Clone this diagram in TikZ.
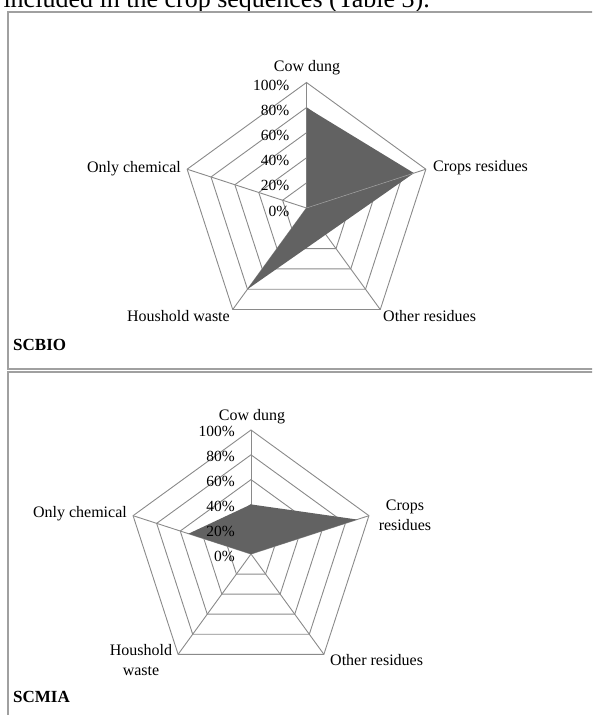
\documentclass[tikz,border=0pt]{standalone}
\usepackage{fontspec}
\setmainfont{Liberation Serif}
\definecolor{gridgray}{HTML}{8A8A8A}
\definecolor{seriesgray}{HTML}{626262}
\definecolor{framegray}{HTML}{A0A0A0}
\begin{document}
\begin{tikzpicture}[x=1pt,y=-1pt,
  grid/.style={draw=gridgray, line width=0.9pt},
  series/.style={fill=seriesgray, draw=none},
  lbl/.style={font=\fontsize{16}{20}\selectfont, inner sep=0pt, align=center},
  pct/.style={font=\fontsize{15.5}{17}\selectfont, inner sep=0pt, anchor=east},
  paneltitle/.style={font=\fontsize{17}{20}\selectfont\bfseries, inner sep=0pt, anchor=west},
  frame/.style={draw=framegray, line width=1.2pt},
  seam/.style={draw=gray!70, line width=0.5pt}]
\useasboundingbox (0,0) rectangle (592,715);
\clip (0,0) rectangle (592,715);

% heading text, cut at the top
\node[font=\fontsize{26}{30}\selectfont, inner sep=0pt, anchor=base east] (head) at (430,7) {included in the crop sequences (Table 3).};

% panel frames
\draw[frame] (600,369) -- (8,369) -- (8,12) -- (600,12);
\draw[frame] (600,372) -- (8,372) -- (8,720);

% ---------- top chart: SCBIO ----------
\begin{scope}[shift={(306.5,208)}]
  \foreach \r in {25.1,50.2,75.3,100.4,125.5}
    \draw[grid] (-90:\r) -- (-18:\r) -- (54:\r) -- (126:\r) -- (198:\r) -- cycle;
  \foreach \a in {-90,-18,54,126,198}
    \draw[grid] (0,0) -- (\a:125.5);
  \coordinate (t0) at (0,0);
  \coordinate (tc) at (-90:{0.8*125.5});
  \coordinate (tr) at (-18:{0.9*125.5});
  \coordinate (th) at (126:{0.8*125.5});
  \fill[series] (tc) -- (tr) -- (th) -- (t0) -- cycle;
  \draw[seam] (t0) -- (tr);
\end{scope}
\node[lbl] (tcow) at (307,68) {Cow dung};
\node[lbl, anchor=west] (tcrops) at (433,168) {Crops residues};
\node[lbl, anchor=east] (tchem) at (181,169) {Only chemical};
\node[lbl, anchor=east] (thouse) at (230,316) {Houshold waste};
\node[lbl, anchor=west] (tother) at (383,316) {Other residues};
\node[pct] (tp100) at (289.5,85) {100\%};
\node[pct] (tp80) at (289.5,110) {80\%};
\node[pct] (tp60) at (289.5,135) {60\%};
\node[pct] (tp40) at (289.5,160) {40\%};
\node[pct] (tp20) at (289.5,185) {20\%};
\node[pct] (tp0) at (289.5,211) {0\%};
\node[paneltitle] (scbio) at (13,345) {SCBIO};

% ---------- bottom chart: SCMIA ----------
\begin{scope}[shift={(251,554)}]
  \foreach \r in {24.8,49.6,74.4,99.2,124}
    \draw[grid] (-90:\r) -- (-18:\r) -- (54:\r) -- (126:\r) -- (198:\r) -- cycle;
  \foreach \a in {-90,-18,54,126,198}
    \draw[grid] (0,0) -- (\a:124);
  \coordinate (b0) at (0,0);
  \coordinate (bc) at (-90:{0.4*124});
  \coordinate (br) at (-18:{0.9*124});
  \coordinate (bl) at (198:{0.53*124});
  \fill[series] (bc) -- (br) -- (b0) -- (bl) -- cycle;
\end{scope}
\node[lbl] (bcow) at (252,417) {Cow dung};
\node[lbl] (bcrops) at (405,515) {Crops\\residues};
\node[lbl, anchor=east] (bchem) at (127,514) {Only chemical};
\node[lbl] (bhouse) at (141,660) {Houshold\\waste};
\node[lbl, anchor=west] (bother) at (330,660) {Other residues};
\node[pct] (bp100) at (235,431.5) {100\%};
\node[pct] (bp80) at (235,456.5) {80\%};
\node[pct] (bp60) at (235,481.5) {60\%};
\node[pct] (bp40) at (235,506.5) {40\%};
\node[pct] (bp20) at (235,531.5) {20\%};
\node[pct] (bp0) at (235,556) {0\%};
\node[paneltitle] (scmia) at (13,697) {SCMIA};
\end{tikzpicture}
\end{document}
